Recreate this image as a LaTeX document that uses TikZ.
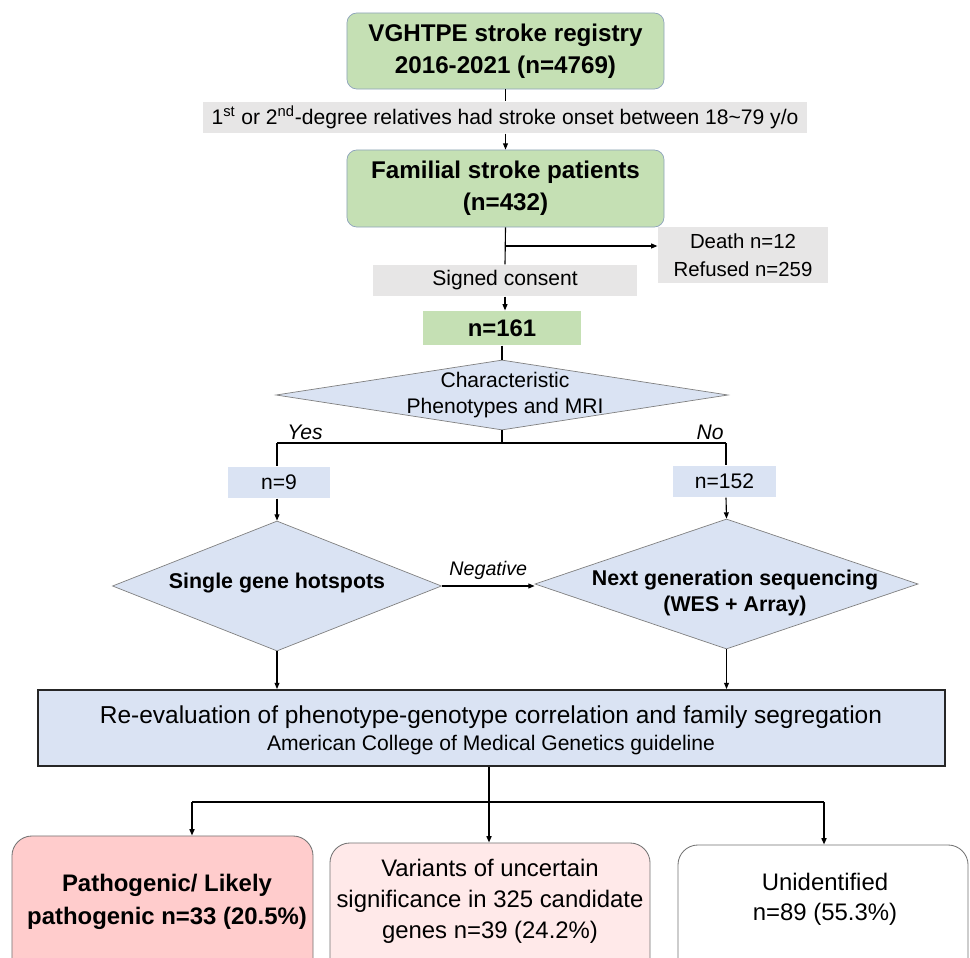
\documentclass[tikz,border=0pt]{standalone}
\usepackage{fontspec}
\setmainfont{Liberation Sans}
\usetikzlibrary{arrows.meta,shapes.geometric}

\definecolor{boxgreen}{HTML}{C5E0B4}
\definecolor{boxgray}{HTML}{E7E6E6}
\definecolor{boxblue}{HTML}{DAE3F3}
\definecolor{boxred}{HTML}{FFCCCC}
\definecolor{boxpink}{HTML}{FFE9E9}
\definecolor{rimblue}{HTML}{8EA3BC}

\begin{document}
\begin{tikzpicture}[x=0.025cm, y=-0.025cm, line width=0.8pt,
  greenbox/.style={draw=rimblue, line width=0.5pt, fill=boxgreen, rounded corners=7pt, inner sep=0pt,
    align=center, font=\fontsize{17.2}{23}\selectfont\bfseries},
  graybox/.style={fill=boxgray, inner sep=0pt, align=center, font=\fontsize{15}{20}\selectfont},
  bluebox/.style={fill=boxblue, inner sep=0pt, align=center, font=\fontsize{15}{20}\selectfont},
  decision/.style={diamond, draw=black!50, line width=0.5pt, fill=boxblue, inner sep=0pt},
  outcome/.style={draw=black!55, line width=0.6pt, rounded corners=0.5cm, inner sep=0pt},
  arr/.style={-{Triangle[length=4.5pt,width=3.5pt]}},
  fork/.style={line width=1.3pt}]
\path[use as bounding box, clip] (0,0) rectangle (970,957);

% top of the cohort
\node[greenbox, minimum width=7.925cm, minimum height=1.9cm] (registry) at (505.5,51) {VGHTPE stroke registry\\2016-2021 (n=4769)};
\node[graybox, minimum width=15.1cm, minimum height=0.775cm] (relatives) at (505,117.5) {1\textsuperscript{st} or 2\textsuperscript{nd}-degree relatives had stroke onset between 18\textasciitilde79 y/o};
\node[greenbox, minimum width=7.925cm, minimum height=1.925cm] (familial) at (505.5,188.5) {Familial stroke patients\\(n=432)};
\node[graybox, minimum width=4.25cm, minimum height=1.4cm, font=\fontsize{14.5}{20}\selectfont] (excluded) at (743,255) {Death n=12\\Refused n=259};
\node[graybox, minimum width=6.575cm, minimum height=0.775cm] (consent) at (505,280.5) {Signed consent};
\node[fill=boxgreen, minimum width=3.95cm, minimum height=0.85cm, inner sep=0pt, font=\fontsize{17}{20}\selectfont\bfseries] (n161) at (502,328) {n=161};

\draw (registry.south) -- (registry.south |- relatives.north);
\draw[arr] (registry.south |- relatives.south) -- (familial.north);
\draw (familial.south) -- (consent.north);
\coordinate (branch) at (505,246);
\draw[arr] (branch) -- (branch -| excluded.west);
\draw[arr] (consent.south) -- (consent.south |- n161.north);

% phenotype decision
\node[decision, minimum width=11.3cm, minimum height=1.75cm] (pheno) at (502,395) {};
\node[align=center, font=\fontsize{15}{18.5}\selectfont] (phenotext) at (505,395) {Characteristic\\Phenotypes and MRI};
\draw (pheno.north |- n161.south) -- (pheno.north);

\coordinate (split) at (502,443);
\coordinate (yes) at (277,443);
\coordinate (no) at (726,443);
\draw (pheno.south) -- (split);
\draw (yes) -- (no);
\node[font=\fontsize{15}{18}\selectfont\itshape] (yeslabel) at (305,432) {Yes};
\node[font=\fontsize{15}{18}\selectfont\itshape] (nolabel) at (710,432) {No};

\node[bluebox, minimum width=2.55cm, minimum height=0.775cm] (n9) at (279,482.5) {n=9};
\node[bluebox, minimum width=2.575cm, minimum height=0.775cm] (n152) at (724.5,481.5) {n=152};
\draw (yes) -- (yes |- n9.north);
\draw (no) -- (no |- n152.north);

% testing
\node[decision, minimum width=8.225cm, minimum height=3.25cm] (hotspots) at (277,586) {};
\node[font=\fontsize{15.2}{18}\selectfont\bfseries] (hotspotstext) at (277,583) {Single gene hotspots};
\node[decision, minimum width=9.575cm, minimum height=3.25cm] (ngs) at (726.5,584) {};
\node[align=center, font=\fontsize{15.2}{18.5}\selectfont\bfseries] (ngstext) at (735,593) {Next generation sequencing\\(WES + Array)};
\draw[arr] (yes |- n9.south) -- (hotspots.north);
\draw[arr] (no |- n152.south) -- (ngs.north);
\draw[arr] (hotspots.east) -- (hotspots.east -| ngs.west) node[midway, above=1pt, font=\fontsize{14}{16}\selectfont\itshape] (neglabel) {Negative};

% re-evaluation
\node[draw=black!85, line width=1.3pt, fill=boxblue, minimum width=22.675cm, minimum height=1.9cm, inner sep=0pt] (reeval) at (491.5,728) {};
\node[font=\fontsize{17.4}{20}\selectfont] (reevaltext) at (491,717) {Re-evaluation of phenotype-genotype correlation and family segregation};
\node[font=\fontsize{15}{18}\selectfont] (acmgtext) at (491,745) {American College of Medical Genetics guideline};
\draw[arr] (hotspots.south) -- (hotspots.south |- reeval.north);
\draw[arr] (ngs.south) -- (ngs.south |- reeval.north);

% outcomes
\node[outcome, fill=boxred, minimum width=7.525cm, minimum height=3.7cm] (pathogenic) at (162.5,910) {};
\node[outcome, fill=boxpink, minimum width=8cm, minimum height=3.55cm] (vus) at (490,914) {};
\node[outcome, fill=white, minimum width=7.25cm, minimum height=3.5cm] (unidentified) at (823,915) {};
\node[align=center, font=\fontsize{17}{23}\selectfont\bfseries] (pathtext) at (167,902) {Pathogenic/ Likely\\pathogenic n=33 (20.5\%)};
\node[align=center, font=\fontsize{17}{22}\selectfont] (vustext) at (490,901) {Variants of uncertain\\significance in 325 candidate\\genes n=39 (24.2\%)};
\node[align=center, font=\fontsize{17}{21.3}\selectfont] (unidtext) at (825,899) {Unidentified\\n=89 (55.3\%)};

\coordinate (fork) at (489,802);
\coordinate (toA) at (192,802);
\coordinate (toC) at (824,802);
\draw[fork] (fork |- reeval.south) -- (fork);
\draw[fork] (toA) -- (toC);
\draw[fork, arr] (toA) -- (toA |- pathogenic.north);
\draw[fork, arr] (fork) -- (fork |- vus.north);
\draw[fork, arr] (toC) -- (toC |- unidentified.north);
\end{tikzpicture}
\end{document}
